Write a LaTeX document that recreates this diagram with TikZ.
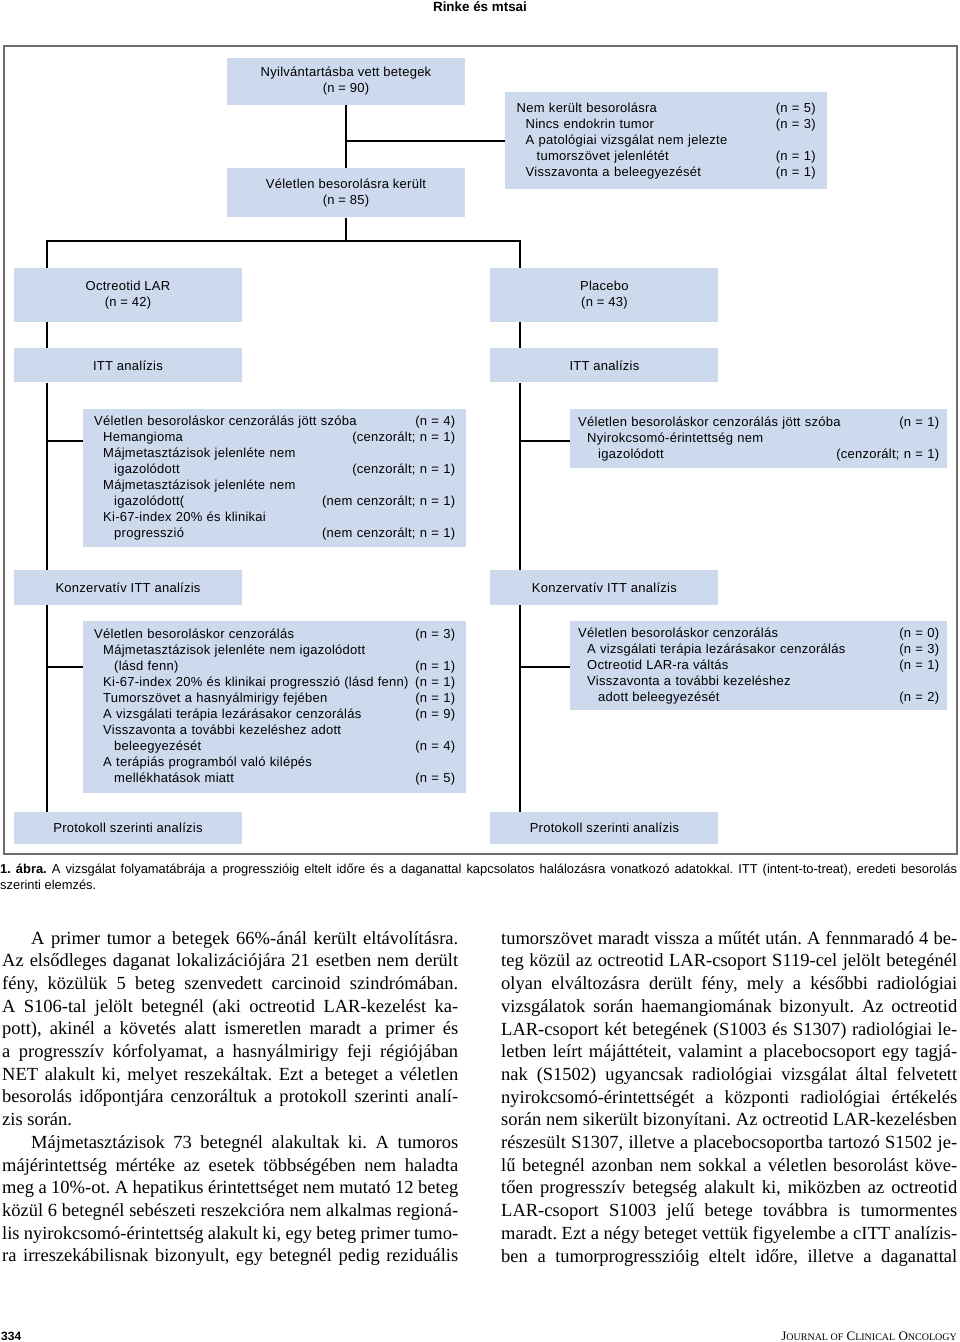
\documentclass[tikz,border=0pt]{standalone}
\usepackage{fontspec}
\setmainfont{Liberation Serif}
\newfontfamily\chartfont[LetterSpace=2]{Liberation Sans}
\newfontfamily\capfont{Liberation Sans}
\usetikzlibrary{positioning}
\definecolor{boxblue}{RGB}{205,217,237}
\definecolor{framegray}{RGB}{110,110,110}
\newcommand{\indA}{\hspace*{9pt}}
\newcommand{\indB}{\hspace*{20pt}}
\setlength{\parindent}{0pt}
\frenchspacing

\begin{document}
\begin{tikzpicture}[
    x=1pt, y=-1pt,
    flowbox/.style={
        fill=boxblue,
        inner sep=0pt,
        minimum width=228pt,
        minimum height=#1,
        align=center,
        font=\chartfont\fontsize{13}{16}\selectfont
    },
    flowbox/.default=34pt,
    listbox/.style={
        fill=boxblue,
        anchor=north west,
        inner xsep=11pt,
        inner ysep=0pt,
        text width=#1,
        align=left,
        font=\chartfont\fontsize{13}{16}\selectfont
    },
    listbox/.default=361pt,
    conn/.style={line width=1.6pt, black},
    bodytext/.style={
        anchor=north west,
        inner sep=0pt,
        text width=456pt,
        align=justify,
        font=\fontsize{18.5}{22.7}\selectfont
    }
]
\useasboundingbox (0,0) rectangle (960,1342);

% === Running head ===
\node[font=\capfont\bfseries\fontsize{13.4}{15}\selectfont] (head) at (480,7) {Rinke és mtsai};

% === Frame ===
\draw[framegray, line width=1.5pt] (4,46) rectangle (957,854);

% === Enrolment ===
\node[flowbox=47pt, minimum width=238pt] (reg) at (346,81.5) {Nyilvántartásba vett betegek\\(n = 90)};
\node[flowbox=49pt, minimum width=238pt, below=63pt of reg] (rand) {Véletlen besorolásra került\\(n = 85)};
\node[listbox=299pt, inner xsep=11.5pt, minimum height=97pt] (excl) at (505,92) {
Nem került besorolásra\hfill(n = 5)\\
\indA Nincs endokrin tumor\hfill(n = 3)\\
\indA A patológiai vizsgálat nem jelezte\\
\indB tumorszövet jelenlétét\hfill(n = 1)\\
\indA Visszavonta a beleegyezését\hfill(n = 1)
};

% === Arms ===
\node[flowbox=54pt] (oct) at (128,295) {Octreotid LAR\\(n = 42)};
\node[flowbox=54pt, right=248pt of oct] (plac) {Placebo\\(n = 43)};
\node[flowbox, below=26pt of oct] (itt1) {ITT analízis};
\node[flowbox, right=248pt of itt1] (itt2) {ITT analízis};

% === Censored at randomization ===
\node[listbox, minimum height=138pt] (cens1) at (83,409) {
Véletlen besoroláskor cenzorálás jött szóba\hfill(n = 4)\\
\indA Hemangioma\hfill(cenzorált; n = 1)\\
\indA Májmetasztázisok jelenléte nem\\
\indB igazolódott\hfill(cenzorált; n = 1)\\
\indA Májmetasztázisok jelenléte nem\\
\indB igazolódott(\hfill(nem cenzorált; n = 1)\\
\indA Ki-67-index 20\% és klinikai\\
\indB progresszió\hfill(nem cenzorált; n = 1)
};
\node[listbox, inner xsep=8pt, minimum height=59pt] (cens2) at (570,409) {
Véletlen besoroláskor cenzorálás jött szóba\hfill(n = 1)\\
\indA Nyirokcsomó-érintettség nem\\
\indB igazolódott\hfill(cenzorált; n = 1)
};

% === Conservative ITT ===
\node[flowbox=35pt, below=187pt of itt1] (kitt1) {Konzervatív ITT analízis};
\node[flowbox=35pt, right=248pt of kitt1] (kitt2) {Konzervatív ITT analízis};
\node[listbox, minimum height=172pt] (cens3) at (83,621) {
Véletlen besoroláskor cenzorálás\hfill(n = 3)\\
\indA Májmetasztázisok jelenléte nem igazolódott\\
\indB (lásd fenn)\hfill(n = 1)\\
\indA Ki-67-index 20\% és klinikai progresszió (lásd fenn)\hfill(n = 1)\\
\indA Tumorszövet a hasnyálmirigy fejében\hfill(n = 1)\\
\indA A vizsgálati terápia lezárásakor cenzorálás\hfill(n = 9)\\
\indA Visszavonta a további kezeléshez adott\\
\indB beleegyezését\hfill(n = 4)\\
\indA A terápiás programból való kilépés\\
\indB mellékhatások miatt\hfill(n = 5)
};
\node[listbox, inner xsep=8pt, minimum height=89pt] (cens4) at (570,621) {
Véletlen besoroláskor cenzorálás\hfill(n = 0)\\
\indA A vizsgálati terápia lezárásakor cenzorálás\hfill(n = 3)\\
\indA Octreotid LAR-ra váltás\hfill(n = 1)\\
\indA Visszavonta a további kezeléshez\\
\indB adott beleegyezését\hfill(n = 2)
};

% === Per protocol ===
\node[flowbox=32pt, below=207pt of kitt1] (pp1) {Protokoll szerinti analízis};
\node[flowbox=32pt, right=248pt of pp1] (pp2) {Protokoll szerinti analízis};

% === Connectors ===
\coordinate (sl) at (47,241);
\coordinate (sr) at (520,241);
\draw[conn] (reg) -- (rand);
\draw[conn] (excl.west) -- (excl.west -| reg.south);
\draw[conn] (rand) -- (rand |- sl);
\draw[conn] (oct.north -| sl) -- (sl) -- (sr) -- (plac.north -| sr);
\draw[conn] (oct.south -| sl) -- (itt1.north -| sl);
\draw[conn] (plac.south -| sr) -- (itt2.north -| sr);
\draw[conn] (itt1.south -| sl) -- (kitt1.north -| sl);
\draw[conn] (itt2.south -| sr) -- (kitt2.north -| sr);
\draw[conn] (kitt1.south -| sl) -- (pp1.north -| sl);
\draw[conn] (kitt2.south -| sr) -- (pp2.north -| sr);
\draw[conn] ([yshift=-32pt]cens1.north west) -- ([yshift=-32pt]cens1.north west -| sl);
\draw[conn] ([yshift=-32pt]cens2.north west) -- ([yshift=-32pt]cens2.north west -| sr);
\draw[conn] ([yshift=-46pt]cens3.north west) -- ([yshift=-46pt]cens3.north west -| sl);
\draw[conn] ([yshift=-46pt]cens4.north west) -- ([yshift=-46pt]cens4.north west -| sr);

% === Caption ===
\node[anchor=north west, inner sep=0pt, text width=957pt, align=justify,
      font=\capfont\fontsize{12.9}{16}\selectfont] (caption) at (0,864) {
\textbf{1. ábra.} A vizsgálat folyamatábrája a progresszióig eltelt időre és a daganattal kapcsolatos halálozásra vonatkozó adatokkal. ITT (intent-to-treat), eredeti besorolás\linebreak
szerinti elemzés.};

% === Body text ===
\node[bodytext] (colL) at (2,931) {
\hspace*{29pt}A primer tumor a betegek 66\%-ánál került eltávolításra.\linebreak
Az elsődleges daganat lokalizációjára 21 esetben nem derült\linebreak
fény, közülük 5 beteg szenvedett carcinoid szindrómában.\linebreak
A S106-tal jelölt betegnél (aki octreotid LAR-kezelést ka-\linebreak
pott), akinél a követés alatt ismeretlen maradt a primer és\linebreak
a progresszív kórfolyamat, a hasnyálmirigy feji régiójában\linebreak
NET alakult ki, melyet reszekáltak. Ezt a beteget a véletlen\linebreak
besorolás időpontjára cenzoráltuk a protokoll szerinti analí-\linebreak
zis során.\par
\hspace*{29pt}Májmetasztázisok 73 betegnél alakultak ki. A tumoros\linebreak
májérintettség mértéke az esetek többségében nem haladta\linebreak
meg a 10\%-ot. A hepatikus érintettséget nem mutató 12 beteg\linebreak
közül 6 betegnél sebészeti reszekcióra nem alkalmas regioná-\linebreak
lis nyirokcsomó-érintettség alakult ki, egy beteg primer tumo-\linebreak
ra irreszekábilisnak bizonyult, egy betegnél pedig reziduális{\parfillskip=0pt\par}};
\node[bodytext] (colR) at (501,931) {
tumorszövet maradt vissza a műtét után. A fennmaradó 4 be-\linebreak
teg közül az octreotid LAR-csoport S119-cel jelölt betegénél\linebreak
olyan elváltozásra derült fény, mely a későbbi radiológiai\linebreak
vizsgálatok során haemangiomának bizonyult. Az octreotid\linebreak
LAR-csoport két betegének (S1003 és S1307) radiológiai le-\linebreak
letben leírt májáttéteit, valamint a placebocsoport egy tagjá-\linebreak
nak (S1502) ugyancsak radiológiai vizsgálat által felvetett\linebreak
nyirokcsomó-érintettségét a központi radiológiai értékelés\linebreak
során nem sikerült bizonyítani. Az octreotid LAR-kezelésben\linebreak
részesült S1307, illetve a placebocsoportba tartozó S1502 je-\linebreak
lű betegnél azonban nem sokkal a véletlen besorolást köve-\linebreak
tően progresszív betegség alakult ki, miközben az octreotid\linebreak
LAR-csoport S1003 jelű betege továbbra is tumormentes\linebreak
maradt. Ezt a négy beteget vettük figyelembe a cITT analízis-\linebreak
ben a tumorprogresszióig eltelt időre, illetve a daganattal{\parfillskip=0pt\par}};

% === Footer ===
\node[anchor=west, inner sep=0pt, font=\capfont\bfseries\fontsize{12}{14}\selectfont] (pageno) at (1,1336) {334};
\node[anchor=east, inner sep=0pt, font=\fontsize{13}{15}\selectfont] (journal) at (957,1336)
  {J{\fontsize{10}{12}\selectfont OURNAL OF} C{\fontsize{10}{12}\selectfont LINICAL} O{\fontsize{10}{12}\selectfont NCOLOGY}};

\end{tikzpicture}
\end{document}
